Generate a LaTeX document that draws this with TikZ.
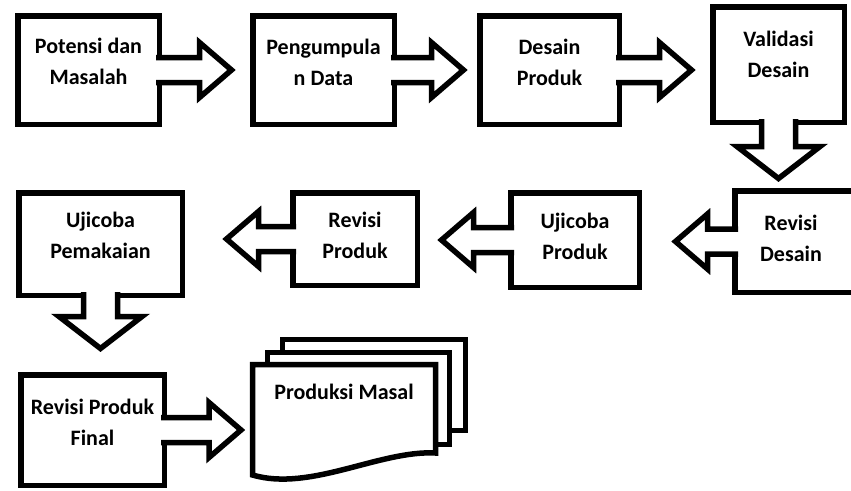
\documentclass[tikz,border=0pt]{standalone}
\usepackage{fontspec}
\setmainfont{Carlito}
\usetikzlibrary{calc}

\tikzset{
  blok/.style={draw, line width=5.5pt, fill=white, rectangle, inner sep=0pt},
  teks/.style={font=\fontsize{22}{31}\selectfont\bfseries, align=center, inner sep=0pt},
  panah/.style={draw, line width=5.5pt, fill=white, line join=miter},
  halaman/.style={rectangle, inner sep=0pt, outer sep=0pt, minimum width=183pt, minimum height=110.5pt}
}

% block arrows: [gap]{from}{to}
\newcommand{\panahkanan}[3][15]{%
  \draw[panah] let \p1=(#2.east), \p2=(#3.west) in
    (\x1-6pt,\y1+12.5pt) -- (\x2-#1pt-35.5pt,\y1+12.5pt) -- (\x2-#1pt-35.5pt,\y1+27.5pt)
    -- (\x2-#1pt-3.5pt,\y1) -- (\x2-#1pt-35.5pt,\y1-27.5pt) -- (\x2-#1pt-35.5pt,\y1-12.5pt)
    -- (\x1-6pt,\y1-12.5pt);}
\newcommand{\panahkiri}[3][15]{%
  \draw[panah] let \p1=(#2.west), \p2=(#3.east) in
    (\x1+6pt,\y1+12.5pt) -- (\x2+#1pt+35.5pt,\y1+12.5pt) -- (\x2+#1pt+35.5pt,\y1+27.5pt)
    -- (\x2+#1pt+3.5pt,\y1) -- (\x2+#1pt+35.5pt,\y1-27.5pt) -- (\x2+#1pt+35.5pt,\y1-12.5pt)
    -- (\x1+6pt,\y1-12.5pt);}
\newcommand{\panahbawah}[3][15]{%
  \draw[panah] let \p1=(#2.south), \p2=(#3.north) in
    (\x1-17pt,\y1+6pt) -- (\x1-17pt,\y2+#1pt+35.5pt) -- (\x1-41.5pt,\y2+#1pt+35.5pt)
    -- (\x1,\y2+#1pt+3.5pt) -- (\x1+41.5pt,\y2+#1pt+35.5pt) -- (\x1+17pt,\y2+#1pt+35.5pt)
    -- (\x1+17pt,\y1+6pt);}

\begin{document}
\begin{tikzpicture}[x=1pt, y=-1pt]
  \clip (0,0) rectangle (851,490);
  % Top row
  \node[blok, minimum width=141.5pt, minimum height=108.5pt] (potensi) at (88.5,70) {};
  \node[blok, minimum width=141.5pt, minimum height=108.5pt] (pengumpulan) at (323.5,70) {};
  \node[blok, minimum width=139.5pt, minimum height=108.5pt] (desain) at (549.5,70) {};
  \node[blok, minimum width=131.5pt, minimum height=115.5pt] (validasi) at (778.5,64.5) {};
  % Middle row (right to left)
  \node[blok, minimum width=134.5pt, minimum height=101.5pt] (revdesain) at (802,241.5) {};
  \node[blok, minimum width=128.5pt, minimum height=94.5pt] (ujiproduk) at (575,240) {};
  \node[blok, minimum width=124.5pt, minimum height=92.5pt] (revproduk) at (355,239) {};
  \node[blok, minimum width=163.5pt, minimum height=102.5pt] (ujipakai) at (100.5,244) {};
  % Bottom row
  \node[blok, minimum width=143.5pt, minimum height=110.5pt] (final) at (92.5,430) {};
  \node[halaman] (produksi) at (344,419.75) {};
  \draw[blok] ([xshift=30pt,yshift=25pt]produksi.north west) rectangle ([xshift=30pt,yshift=44.5pt]produksi.south east);
  \draw[blok] ([xshift=15pt,yshift=12pt]produksi.north west) rectangle ([xshift=14pt,yshift=30.5pt]produksi.south east);
  \draw[blok] (produksi.south west) -- (produksi.north west) -- (produksi.north east)
    -- ([yshift=22pt]produksi.south east)
    .. controls ([xshift=-55.5pt,yshift=25pt]produksi.south east) and ([xshift=57.5pt,yshift=-17pt]produksi.south west)
    .. (produksi.south west) -- cycle;

  \panahkanan{potensi}{pengumpulan}
  \panahkanan[10]{pengumpulan}{desain}
  \panahkanan{desain}{validasi}
  \panahbawah[6]{validasi}{revdesain}
  \panahkiri[30]{revdesain}{ujiproduk}
  \panahkiri[18]{ujiproduk}{revproduk}
  \panahkiri[38]{revproduk}{ujipakai}
  \panahbawah[20]{ujipakai}{final}
  \panahkanan[8]{final}{produksi}

  % Labels
  \node[teks] (potensi-t) at ([yshift=-48pt]potensi.north) {Potensi dan\\Masalah};
  \node[teks] (pengumpulan-t) at ([yshift=-49pt]pengumpulan.north) {Pengumpula\\n Data};
  \node[teks] (desain-t) at ([yshift=-49pt]desain.north) {Desain\\Produk};
  \node[teks] (validasi-t) at ([yshift=-50pt]validasi.north) {Validasi\\Desain};
  \node[teks] (revdesain-t) at ([yshift=-50pt]revdesain.north -| 791,0) {Revisi\\Desain};
  \node[teks] (ujiproduk-t) at ([yshift=-46pt]ujiproduk.north) {Ujicoba\\Produk};
  \node[teks] (revproduk-t) at ([yshift=-45pt]revproduk.north) {Revisi\\Produk};
  \node[teks] (ujipakai-t) at ([yshift=-45pt]ujipakai.north) {Ujicoba\\Pemakaian};
  \node[teks] (final-t) at ([yshift=-50pt]final.north) {Revisi Produk\\Final};
  \node[teks] (produksi-t) at ([yshift=-27.5pt]produksi.north) {Produksi Masal};
\end{tikzpicture}
\end{document}
